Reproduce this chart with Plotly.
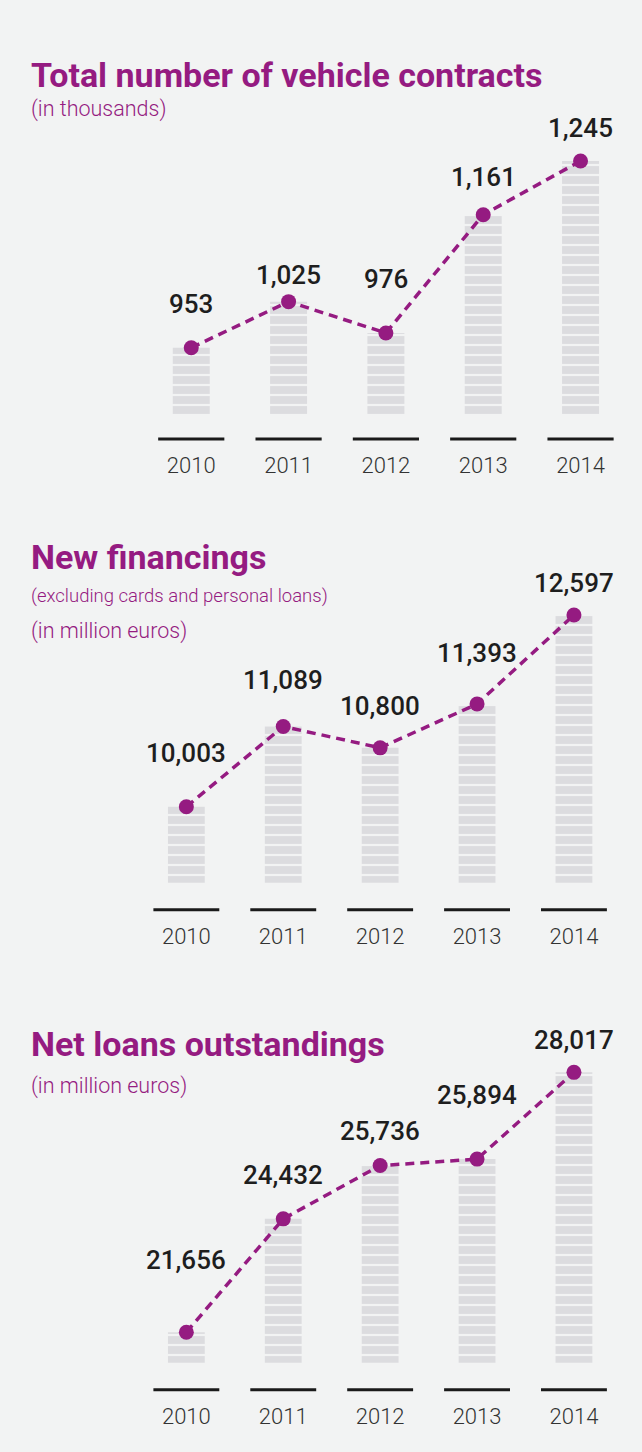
import plotly.graph_objects as go

# ---------------- data ----------------
years = ["2010", "2011", "2012", "2013", "2014"]
contracts = [953, 1025, 976, 1161, 1245]          # thousands
financings = [10003, 11089, 10800, 11393, 12597]  # million euros
loans = [21656, 24432, 25736, 25894, 28017]       # million euros

titles = ["Total number of vehicle contracts", "New financings", "Net loans outstandings"]
subtitles = [["(in thousands)"],
             ["(excluding cards and personal loans)", "(in million euros)"],
             ["(in million euros)"]]

# ---------------- style ----------------
W, H = 642, 1452
BG = "#f2f3f3"
PURPLE = "#951b81"
BAR = "#dcdcdf"
DARK = "#1e1e1e"
FONT = "Roboto"

# pixel geometry per panel (plot-area left/right, top/bottom), y ranges, label offsets
panels = [
    dict(values=contracts, left=142.6, right=629.2, top=100, bottom=416,
         yrange=[846.2, 1340.4], line_gap=23, year_gap=50,
         label_shift=[43.5, 26.7, 54, 37.8, 33.5]),
    dict(values=financings, left=137.9, right=622.4, top=580, bottom=882.7,
         yrange=[8975, 13071], line_gap=27, year_gap=54,
         label_shift=[54, 46.7, 42.3, 50.6, 32.3]),
    dict(values=loans, left=137.9, right=622.4, top=1030, bottom=1362.7,
         yrange=[20912, 29053], line_gap=27, year_gap=54,
         label_shift=[72.3, 44.3, 35, 64.4, 32.3]),
]
title_y = [74.5, 557, 1044]
sub_y = [[109], [595.5, 631], [1086]]
sub_size = [[21.5], [18.5, 21.5], [21.5]]

fig = go.Figure()
annotations = []
shapes = []

for i, p in enumerate(panels):
    n = "" if i == 0 else str(i + 1)
    xa, ya = "x" + n, "y" + n
    fig.add_trace(go.Bar(
        x=years, y=p["values"], xaxis=xa, yaxis=ya,
        marker=dict(color=BAR, line=dict(width=0),
                    pattern=dict(shape="-", fillmode="replace", bgcolor=BAR,
                                 fgcolor=BG, fgopacity=1, size=10, solidity=0.22)),
        hoverinfo="skip", showlegend=False,
    ))
    fig.add_trace(go.Scatter(
        x=years, y=p["values"], xaxis=xa, yaxis=ya, mode="lines+markers",
        line=dict(color=PURPLE, width=3.5, dash="9px,6px"),
        marker=dict(color=PURPLE, size=15),
        cliponaxis=False, showlegend=False,
    ))
    dom_y = [1 - p["bottom"] / H, 1 - p["top"] / H]
    dom_x = [p["left"] / W, p["right"] / W]
    height_px = p["bottom"] - p["top"]
    fig.update_layout(**{
        ("xaxis" + n): dict(domain=dom_x, anchor=ya, type="category",
                            range=[-0.5, 4.5], showgrid=False, zeroline=False,
                            showline=False, ticks="",
                            tickfont=dict(family=FONT, size=22, color="#333333", weight=300),
                            ticklabelstandoff=p["year_gap"] - 16),
        ("yaxis" + n): dict(domain=dom_y, anchor=xa, range=p["yrange"],
                            showgrid=False, zeroline=False, showline=False,
                            showticklabels=False, ticks=""),
    })
    for k, v in enumerate(p["values"]):
        annotations.append(dict(
            x=k, y=v, xref=xa, yref=ya, text=f"{v:,}", showarrow=False,
            yanchor="middle", yshift=p["label_shift"][k],
            font=dict(family=FONT, size=26, color=DARK, weight=500)))
        shapes.append(dict(
            type="line", xref=xa, yref=ya + " domain",
            x0=k - 0.34, x1=k + 0.34,
            y0=-p["line_gap"] / height_px, y1=-p["line_gap"] / height_px,
            line=dict(color="#1a1a1a", width=3)))
    annotations.append(dict(
        x=29 / W, y=1 - title_y[i] / H, xref="paper", yref="paper",
        xanchor="left", yanchor="middle", text=titles[i], showarrow=False,
        font=dict(family=FONT, size=34, color=PURPLE, weight=700)))
    for s, sy, ss in zip(subtitles[i], sub_y[i], sub_size[i]):
        annotations.append(dict(
            x=29 / W, y=1 - sy / H, xref="paper", yref="paper",
            xanchor="left", yanchor="middle", text=s, showarrow=False,
            font=dict(family=FONT, size=ss, color=PURPLE, weight=300)))

fig.update_layout(
    width=W, height=H, margin=dict(l=0, r=0, t=0, b=0),
    paper_bgcolor=BG, plot_bgcolor=BG,
    bargap=0.62, annotations=annotations, shapes=shapes,
    font=dict(family=FONT),
)

fig.write_html(
    "out.html",
    config={"displayModeBar": False},
    post_script="document.body.style.margin='0';document.body.style.background='%s';" % BG,
)
